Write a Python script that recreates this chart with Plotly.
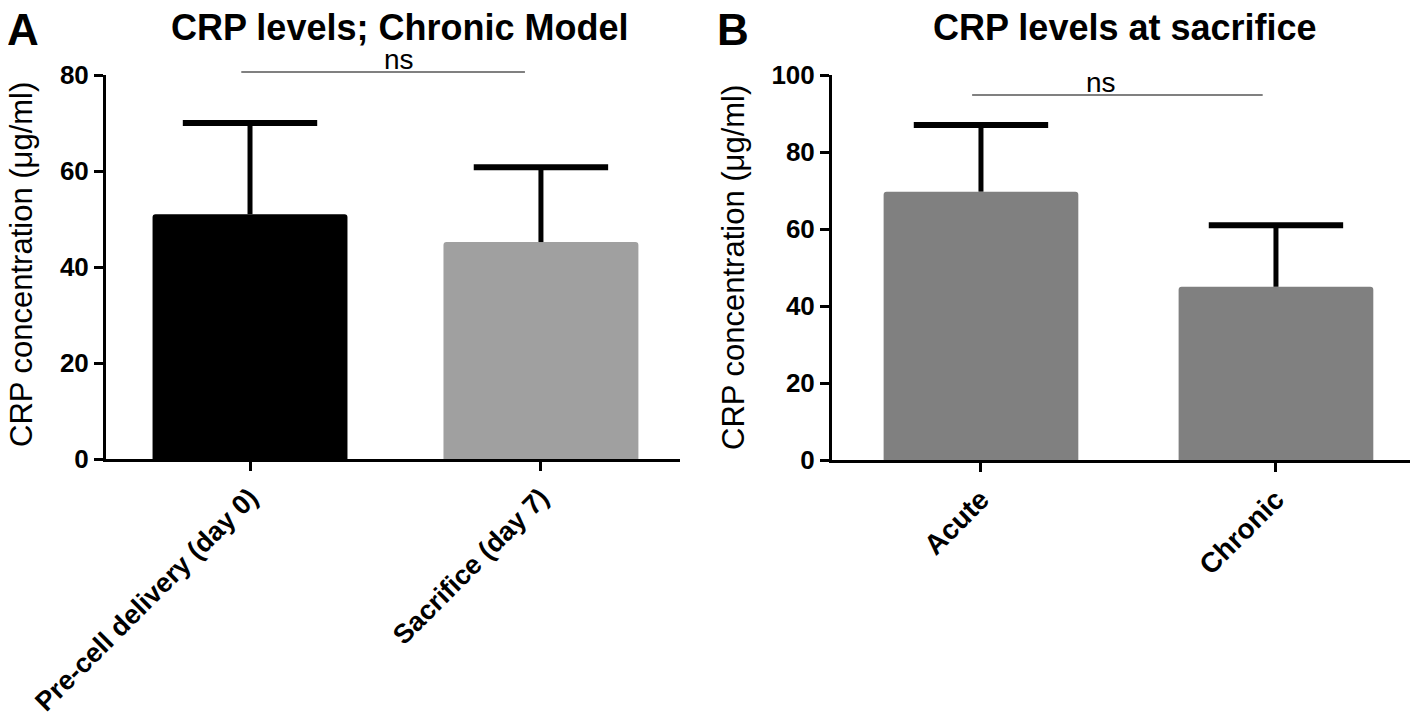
import plotly.graph_objects as go

# ---- data ----
cats_a = ["Pre-cell delivery (day 0)", "Sacrifice (day 7)"]
vals_a = [51.0, 45.2]
err_a = [19.0, 15.6]
colors_a = ["#000000", "#a0a0a0"]

cats_b = ["Acute", "Chronic"]
vals_b = [69.7, 45.0]
err_b = [17.3, 16.0]
colors_b = ["#808080", "#808080"]

yticks_a = [0, 20, 40, 60, 80]
yticks_b = [0, 20, 40, 60, 80, 100]
ns_level_a = 80.6
ns_level_b = 94.8

# the page body adds an 8px margin; lay out in screen pixels and convert
OFF = 8
W, H = 1410, 716
FONT = "Liberation Sans, Arial, Helvetica, sans-serif"


def PX(x):
    return (x - OFF) / W


def PY(y):
    return 1 - (y - OFF) / H


# layout geometry (screen pixels -> paper)
xdom_a = [PX(106), PX(680)]
ydom_a = [PY(459), PY(75)]
xdom_b = [PX(832), 1.0]
ydom_b = [PY(460), PY(75)]
xr_a = [-0.495, 1.478]
xr_b = [-0.505, 1.509 - 8 / 291]
yr_a = [0, 80]
yr_b = [0, 100]


def to_paper(v, rng, dom):
    return dom[0] + (v - rng[0]) / (rng[1] - rng[0]) * (dom[1] - dom[0])


fig = go.Figure()

for cats, vals, errs, cols, xa, ya, bw in [
    (cats_a, vals_a, err_a, colors_a, "x", "y", 0.67),
    (cats_b, vals_b, err_b, colors_b, "x2", "y2", 0.66),
]:
    fig.add_trace(go.Bar(
        x=cats, y=vals, xaxis=xa, yaxis=ya, width=bw,
        marker=dict(color=cols, line=dict(width=0), cornerradius=3),
        error_y=dict(type="data", array=errs, arrayminus=[0] * len(errs), symmetric=False,
                     color="#000000", thickness=5, width=0),
        showlegend=False, hoverinfo="skip",
    ))
    # caps at the top of the error bars
    fig.add_trace(go.Scatter(
        x=cats, y=[v + e for v, e in zip(vals, errs)], xaxis=xa, yaxis=ya,
        mode="markers", cliponaxis=False,
        marker=dict(symbol="line-ew", size=96, color="#000000",
                    line=dict(color="#000000", width=6)),
        showlegend=False, hoverinfo="skip",
    ))

axis_common = dict(showline=True, linecolor="#000000", linewidth=3, showgrid=False,
                   zeroline=False, ticks="outside", ticklen=9, tickwidth=3, tickcolor="#000000",
                   automargin=False)

fig.update_layout(
    width=W, height=H,
    margin=dict(l=0, r=0, t=0, b=0),
    paper_bgcolor="white", plot_bgcolor="white",
    font=dict(family=FONT, color="#000000"),
    bargap=0.3,
    xaxis=dict(domain=xdom_a, anchor="y", range=xr_a, type="category", tickangle=-45,
               tickfont=dict(size=27, family=FONT, weight="bold"), **axis_common),
    yaxis=dict(domain=ydom_a, anchor="x", range=yr_a, tickvals=yticks_a,
               tickfont=dict(size=26, family=FONT, weight="bold"), **axis_common),
    xaxis2=dict(domain=xdom_b, anchor="y2", range=xr_b, type="category", tickangle=-45,
                tickfont=dict(size=28, family=FONT, weight="bold"), **axis_common),
    yaxis2=dict(domain=ydom_b, anchor="x2", range=yr_b, tickvals=yticks_b,
                tickfont=dict(size=26, family=FONT, weight="bold"), **axis_common),
)

# ns lines (significance bars)
for xr, xd, yr, yd, lvl, x0, x1 in [
    (xr_a, xdom_a, yr_a, ydom_a, ns_level_a, -0.03, 0.945),
    (xr_b, xdom_b, yr_b, ydom_b, ns_level_b, -0.03, 0.955),
]:
    px0 = to_paper(x0, xr, xd)
    px1 = to_paper(x1, xr, xd)
    py = to_paper(lvl, yr, yd)
    fig.add_shape(type="line", xref="paper", yref="paper", x0=px0, x1=px1, y0=py, y1=py,
                  line=dict(color="#808080", width=2))
    fig.add_annotation(xref="paper", yref="paper", x=(px0 + px1) / 2, y=py, yanchor="bottom",
                       yshift=-4, borderpad=0, text="ns", showarrow=False,
                       font=dict(size=28, family=FONT, color="#000000"))

# panel titles and letters
fig.add_annotation(xref="paper", yref="paper", x=PX(399), y=PY(27), text="<b>CRP levels; Chronic Model</b>",
                   showarrow=False, xanchor="center", yanchor="middle", borderpad=0,
                   font=dict(size=36, family=FONT))
fig.add_annotation(xref="paper", yref="paper", x=PX(1125), y=PY(27), text="<b>CRP levels at sacrifice</b>",
                   showarrow=False, xanchor="center", yanchor="middle", borderpad=0,
                   font=dict(size=36, family=FONT))
fig.add_annotation(xref="paper", yref="paper", x=PX(23), y=PY(29), text="<b>A</b>",
                   showarrow=False, xanchor="center", yanchor="middle", borderpad=0,
                   font=dict(size=44, family=FONT))
fig.add_annotation(xref="paper", yref="paper", x=PX(733), y=PY(29), text="<b>B</b>",
                   showarrow=False, xanchor="center", yanchor="middle", borderpad=0,
                   font=dict(size=44, family=FONT))

# y axis titles
ytitle = "CRP concentration (\u03bcg/ml)"
fig.add_annotation(xref="paper", yref="paper", x=PX(21), y=PY(265), text=ytitle, textangle=-90,
                   showarrow=False, xanchor="center", yanchor="middle", borderpad=0,
                   font=dict(size=31, family=FONT))
fig.add_annotation(xref="paper", yref="paper", x=PX(733), y=PY(268), text=ytitle, textangle=-90,
                   showarrow=False, xanchor="center", yanchor="middle", borderpad=0,
                   font=dict(size=31, family=FONT))

fig.write_html("out.html")
